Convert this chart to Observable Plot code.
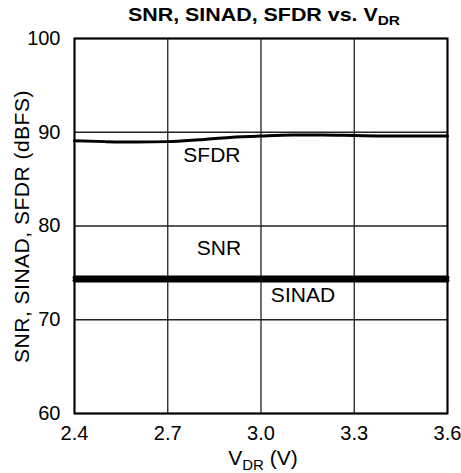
<!DOCTYPE html>
<html><head><meta charset="utf-8">
<script src="https://cdn.jsdelivr.net/npm/d3@7"></script>
<script src="https://cdn.jsdelivr.net/npm/@observablehq/plot@0.6"></script>
<style>
body{margin:0;background:#fff}
#chart{width:461px;height:473px}
</style>
</head><body><div id="chart"></div>
<script>
const vdr   = [2.4, 2.5, 2.6, 2.7, 2.8, 2.9, 3.0, 3.1, 3.2, 3.3, 3.4, 3.5, 3.6];
const sfdr  = [89.1, 89.0, 88.95, 89.0, 89.2, 89.45, 89.6, 89.7, 89.7, 89.65, 89.6, 89.6, 89.6];
const snr   = [74.5, 74.5, 74.5, 74.5, 74.5, 74.5, 74.5, 74.5, 74.5, 74.5, 74.5, 74.5, 74.5];
const sinad = [74.2, 74.2, 74.2, 74.2, 74.2, 74.2, 74.2, 74.2, 74.2, 74.2, 74.2, 74.2, 74.2];
const xTicks = [2.4, 2.7, 3.0, 3.3, 3.6];
const yTicks = [60, 70, 80, 90, 100];
const seriesNames = ["SFDR", "SNR", "SINAD"];
const labelX = [2.842, 2.865, 3.135];
const labelY = [87.5, 77.6, 72.6];

const rows = vdr.map((v, i) => ({v, sfdr: sfdr[i], snr: snr[i], sinad: sinad[i]}));
const labels = seriesNames.map((n, i) => ({n, x: labelX[i], y: labelY[i]}));

const plot = Plot.plot({
  width: 461, height: 473,
  marginLeft: 74, marginRight: 14, marginTop: 38, marginBottom: 60,
  style: {fontFamily: "'Liberation Sans', Arial, Helvetica, sans-serif", fontSize: "20px", color: "#000", background: "#fff"},
  x: {domain: [2.4, 3.6]},
  y: {domain: [60, 100]},
  marks: [
    Plot.gridX(xTicks, {stroke: "#222", strokeOpacity: 1, strokeWidth: 1.3}),
    Plot.gridY(yTicks, {stroke: "#222", strokeOpacity: 1, strokeWidth: 1.3}),
    Plot.axisX(xTicks, {tickSize: 0, tickPadding: 12, tickFormat: d3.format(".1f"), label: null, fontSize: 20}),
    Plot.axisY(yTicks, {tickSize: 0, tickPadding: 14, label: null, fontSize: 20}),
    Plot.line(rows, {x: "v", y: "sfdr", stroke: "#000", strokeWidth: 3, curve: "monotone-x"}),
    Plot.line(rows, {x: "v", y: "snr", stroke: "#000", strokeWidth: 4}),
    Plot.line(rows, {x: "v", y: "sinad", stroke: "#000", strokeWidth: 4}),
    Plot.text(labels, {x: "x", y: "y", text: "n", fontSize: 21, fill: "#000"}),
    Plot.frame({stroke: "#000", strokeWidth: 2})
  ]
});
document.getElementById("chart").appendChild(plot);

const svg = d3.select(plot);
const ff = "'Liberation Sans', Arial, Helvetica, sans-serif";
// Title
const t = svg.append("text")
  .attr("transform", "translate(264,21) scale(1.19,1)")
  .attr("text-anchor", "middle")
  .attr("font-family", ff).attr("font-weight", "bold").attr("font-size", 18).attr("fill", "#000");
t.append("tspan").text("SNR, SINAD, SFDR vs. V");
t.append("tspan").attr("font-size", 13).attr("dy", 4).text("DR");
// X label
const xl = svg.append("text")
  .attr("transform", "translate(263,465)")
  .attr("text-anchor", "middle")
  .attr("font-family", ff).attr("font-size", 21).attr("fill", "#000");
xl.append("tspan").text("V");
xl.append("tspan").attr("font-size", 15).attr("dy", 5).text("DR");
xl.append("tspan").attr("dy", -5).text(" (V)");
// Y label
svg.append("text")
  .attr("transform", "translate(29,226.5) rotate(-90)")
  .attr("text-anchor", "middle")
  .attr("font-family", ff).attr("font-size", 21).attr("letter-spacing", 0.5).attr("fill", "#000")
  .text("SNR, SINAD, SFDR (dBFS)");
</script>
</body></html>
